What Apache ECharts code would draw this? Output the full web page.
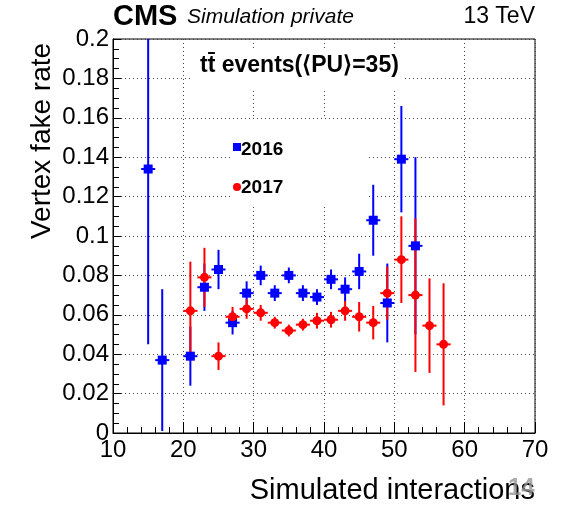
<!DOCTYPE html>
<html>
<head>
<meta charset="utf-8">
<script src="https://cdn.jsdelivr.net/npm/echarts@6/dist/echarts.min.js"></script>
<style>
  html, body { margin: 0; padding: 0; background: #fff; }
  #chart { width: 563px; height: 507px; }
</style>
</head>
<body>
<div id="chart"></div>
<script>
// 2016 sample
var x2016 = [15, 17, 21, 23, 25, 27, 29, 31, 33, 35, 37, 39, 41, 43, 45, 47, 49, 51, 53];
var rate2016 = [0.134, 0.037, 0.039, 0.074, 0.083, 0.056, 0.071, 0.080, 0.071, 0.080,
                0.071, 0.069, 0.078, 0.073, 0.082, 0.108, 0.066, 0.139, 0.095];
var err2016 = [0.089, 0.036, 0.015, 0.012, 0.010, 0.006, 0.006, 0.005, 0.004, 0.004,
               0.004, 0.004, 0.005, 0.006, 0.009, 0.018, 0.020, 0.027, 0.045];
// 2017 sample
var x2017 = [21, 23, 25, 27, 29, 31, 33, 35, 37, 39, 41, 43, 45, 47, 49, 51, 53, 55, 57];
var rate2017 = [0.062, 0.079, 0.039, 0.059, 0.063, 0.061, 0.056, 0.052, 0.055, 0.057,
                0.0575, 0.062, 0.059, 0.056, 0.071, 0.088, 0.070, 0.0545, 0.045];
var err2017 = [0.025, 0.015, 0.007, 0.005, 0.005, 0.004, 0.003, 0.003, 0.003, 0.004,
               0.004, 0.005, 0.0075, 0.0085, 0.0135, 0.022, 0.039, 0.024, 0.031];
var binHalfWidth = 1;

var xTicks = { min: 10, max: 70, step: 10 };
var yTicks = { min: 0, max: 0.2, step: 0.02 };

var FONT = "'Liberation Sans', Arial, sans-serif";
var BLUE = "#0000ff";
var RED = "#ff0000";

function rows(xs, ys, es) {
  return xs.map(function (x, i) { return [x, ys[i], es[i]]; });
}

function errorBars(color) {
  return function (params, api) {
    var x = api.value(0), y = api.value(1), e = api.value(2);
    var c = api.coord([x, y]);
    var l = api.coord([x - binHalfWidth, y]);
    var r = api.coord([x + binHalfWidth, y]);
    var t = api.coord([x, y + e]);
    var b = api.coord([x, y - e]);
    return {
      type: "group",
      children: [
        { type: "line", shape: { x1: l[0], y1: c[1], x2: r[0], y2: c[1] },
          style: { stroke: color, lineWidth: 2 } },
        { type: "line", shape: { x1: c[0], y1: t[1], x2: c[0], y2: b[1] },
          style: { stroke: color, lineWidth: 2 } }
      ]
    };
  };
}

var chart = echarts.init(document.getElementById("chart"));

var option = {
  animation: false,
  textStyle: { fontFamily: FONT },
  grid: {
    left: 113, right: 28, top: 39, bottom: 74,
    show: true, borderColor: "#000", borderWidth: 1, backgroundColor: "transparent"
  },
  xAxis: {
    type: "value",
    min: xTicks.min, max: xTicks.max, interval: xTicks.step,
    axisLine: { lineStyle: { color: "#000", width: 1 } },
    axisTick: { inside: true, length: 11, lineStyle: { color: "#000" } },
    minorTick: { show: true, splitNumber: 5, length: 6, lineStyle: { color: "#000" } },
    splitLine: { show: true, lineStyle: { color: "#444", type: [1, 3], width: 1 } },
    axisLabel: { color: "#000", fontSize: 24, margin: 5, fontFamily: FONT }
  },
  yAxis: {
    type: "value",
    min: yTicks.min, max: yTicks.max, interval: yTicks.step,
    axisLine: { show: true, lineStyle: { color: "#000", width: 1 } },
    axisTick: { show: true, inside: true, length: 8, lineStyle: { color: "#000" } },
    minorTick: { show: true, splitNumber: 4, length: 6, lineStyle: { color: "#000" } },
    splitLine: { show: true, lineStyle: { color: "#444", type: [1, 3], width: 1 } },
    axisLabel: {
      color: "#000", fontSize: 24, margin: 4, fontFamily: FONT,
      formatter: function (v) { return String(parseFloat(v.toFixed(3))); }
    }
  },
  graphic: [
    // white boxes behind the in-plot texts (like ROOT's filled panes)
    { type: "rect", z: 1, shape: { x: 193, y: 48, width: 212, height: 40 }, style: { fill: "#fff" } },
    { type: "rect", z: 1, shape: { x: 231, y: 119, width: 138, height: 86 }, style: { fill: "#fff" } },
    { type: "text", z: 10, left: 113, top: 2,
      style: { text: "CMS", font: "bold 29px " + FONT, fill: "#000" } },
    { type: "text", z: 10, left: 187, top: 7,
      style: { text: "Simulation private", font: "italic 21px " + FONT, fill: "#000" } },
    { type: "text", z: 10, right: 28, top: 5,
      style: { text: "13 TeV", font: "23px " + FONT, fill: "#000" } },
    { type: "text", z: 10, left: 200, top: 54,
      style: { text: "tt\u0304 events(\u27E8PU\u27E9=35)", font: "bold 23px " + FONT, fill: "#000" } },
    { type: "rect", z: 10, shape: { x: 233, y: 143, width: 8, height: 8 }, style: { fill: BLUE } },
    { type: "text", z: 10, left: 241, top: 140,
      style: { text: "2016", font: "bold 19px " + FONT, fill: "#000" } },
    { type: "circle", z: 10, shape: { cx: 237, cy: 187, r: 4 }, style: { fill: RED } },
    { type: "text", z: 10, left: 241, top: 178,
      style: { text: "2017", font: "bold 19px " + FONT, fill: "#000" } },
    { type: "text", z: 10, x: 42, y: 141, rotation: Math.PI / 2,
      style: { text: "Vertex fake rate", font: "28px " + FONT, fill: "#000",
               textAlign: "center", textVerticalAlign: "middle" } },
    { type: "text", z: 10, right: 28, top: 476,
      style: { text: "Simulated interactions", font: "29px " + FONT, fill: "#000" } },
    { type: "text", z: 11, left: 508, top: 476,
      style: { text: "14", font: "bold 24px " + FONT, fill: "rgba(150,150,150,0.8)" } }
  ],
  series: [
    { name: "err2016", type: "custom", z: 2, clip: true,
      renderItem: errorBars(BLUE), data: rows(x2016, rate2016, err2016) },
    { name: "err2017", type: "custom", z: 3, clip: true,
      renderItem: errorBars(RED), data: rows(x2017, rate2017, err2017) },
    { name: "2016", type: "scatter", z: 4, symbol: "rect", symbolSize: 9,
      itemStyle: { color: BLUE, opacity: 1 },
      data: x2016.map(function (x, i) { return [x, rate2016[i]]; }) },
    { name: "2017", type: "scatter", z: 5, symbol: "circle", symbolSize: 9,
      itemStyle: { color: RED, opacity: 1 },
      data: x2017.map(function (x, i) { return [x, rate2017[i]]; }) }
  ]
};

chart.setOption(option);
</script>
</body>
</html>
